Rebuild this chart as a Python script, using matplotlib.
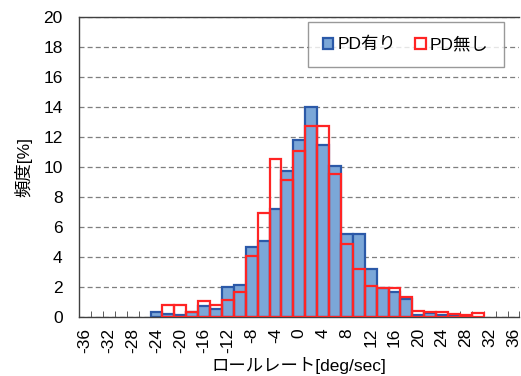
import numpy as np
import matplotlib.pyplot as plt
from matplotlib.patches import Patch

plt.rcParams['font.family'] = ['Liberation Sans', 'Noto Sans CJK JP', 'DejaVu Sans']

# bin centres of the roll-rate histogram [deg/sec]
bins = list(range(-36, 37, 2))

# frequency [%] per bin
pd_on = [0, 0, 0, 0, 0, 0, 0.33, 0.2, 0.15, 0.3, 0.75, 0.5, 2.0, 2.13, 4.67, 5.07,
         7.2, 9.7, 11.8, 14.0, 11.45, 10.05, 5.56, 5.56, 3.22, 1.96, 1.67, 1.2,
         0.1, 0.25, 0.15, 0.05, 0.05, 0, 0, 0, 0]
pd_off = [0, 0, 0, 0, 0, 0, 0, 0.82, 0.82, 0.3, 1.05, 0.78, 1.16, 1.67, 4.05, 6.9,
          10.5, 9.15, 11.07, 12.73, 12.73, 9.55, 4.85, 3.18, 2.07, 1.93, 1.93, 1.3,
          0.42, 0.35, 0.3, 0.2, 0.1, 0.28, 0, 0, 0]

blue_face = '#7BA7D8'
blue_edge = '#2B59A8'
red_edge = '#FF2424'

fig = plt.figure(figsize=(5.21, 3.76), dpi=100)
ax = fig.add_axes([0.152, 0.157, 0.845, 0.798])

# empty bins are not drawn
on_x = [b for b, v in zip(bins, pd_on) if v > 0]
on_y = [v for v in pd_on if v > 0]
off_x = [b for b, v in zip(bins, pd_off) if v > 0]
off_y = [v for v in pd_off if v > 0]

ax.bar(on_x, on_y, width=2, color=blue_face, edgecolor=blue_edge, linewidth=1.6, zorder=2)
ax.bar(off_x, off_y, width=2, color='none', edgecolor=red_edge, linewidth=1.6, zorder=3)

ax.set_xlim(-37, 37)
ax.set_ylim(0, 20)
ax.set_yticks(np.arange(0, 21, 2))
ax.set_xticks(range(-36, 37, 4))
ax.set_xticklabels([str(v) for v in range(-36, 37, 4)], rotation=90)
ax.set_xticks(np.arange(-37, 38, 2), minor=True)
ax.tick_params(axis='x', which='major', length=0, labelsize=12.5, pad=8)
ax.tick_params(axis='x', which='minor', direction='in', length=4, color='#404040')
ax.tick_params(axis='y', length=0, labelsize=12.5, pad=12)

ax.grid(axis='y', linestyle=(0, (4, 2.5)), color='#7F7F7F', linewidth=0.9, zorder=0)
ax.set_axisbelow(True)
ax.spines['right'].set_visible(False)
for s in ['left', 'bottom', 'top']:
    ax.spines[s].set_color('#404040')
    ax.spines[s].set_linewidth(1.0)

ax.set_xlabel('ロールレート[deg/sec]', fontsize=12.5, labelpad=3)
ax.set_ylabel('頻度[%]', fontsize=12.5, labelpad=8)

handles = [Patch(facecolor=blue_face, edgecolor=blue_edge, linewidth=1.6, label='PD有り'),
           Patch(facecolor='white', edgecolor=red_edge, linewidth=1.6, label='PD無し')]
leg = ax.legend(handles=handles, loc='upper right', bbox_to_anchor=(0.964, 0.983),
                ncol=2, fontsize=12.5, frameon=True, fancybox=False,
                handlelength=0.6, handleheight=0.6, handletextpad=0.25,
                columnspacing=1.1, borderpad=0.85, borderaxespad=0)
leg.get_frame().set_edgecolor('#808080')
leg.get_frame().set_linewidth(1.0)

fig.savefig('out.png', dpi=100)
